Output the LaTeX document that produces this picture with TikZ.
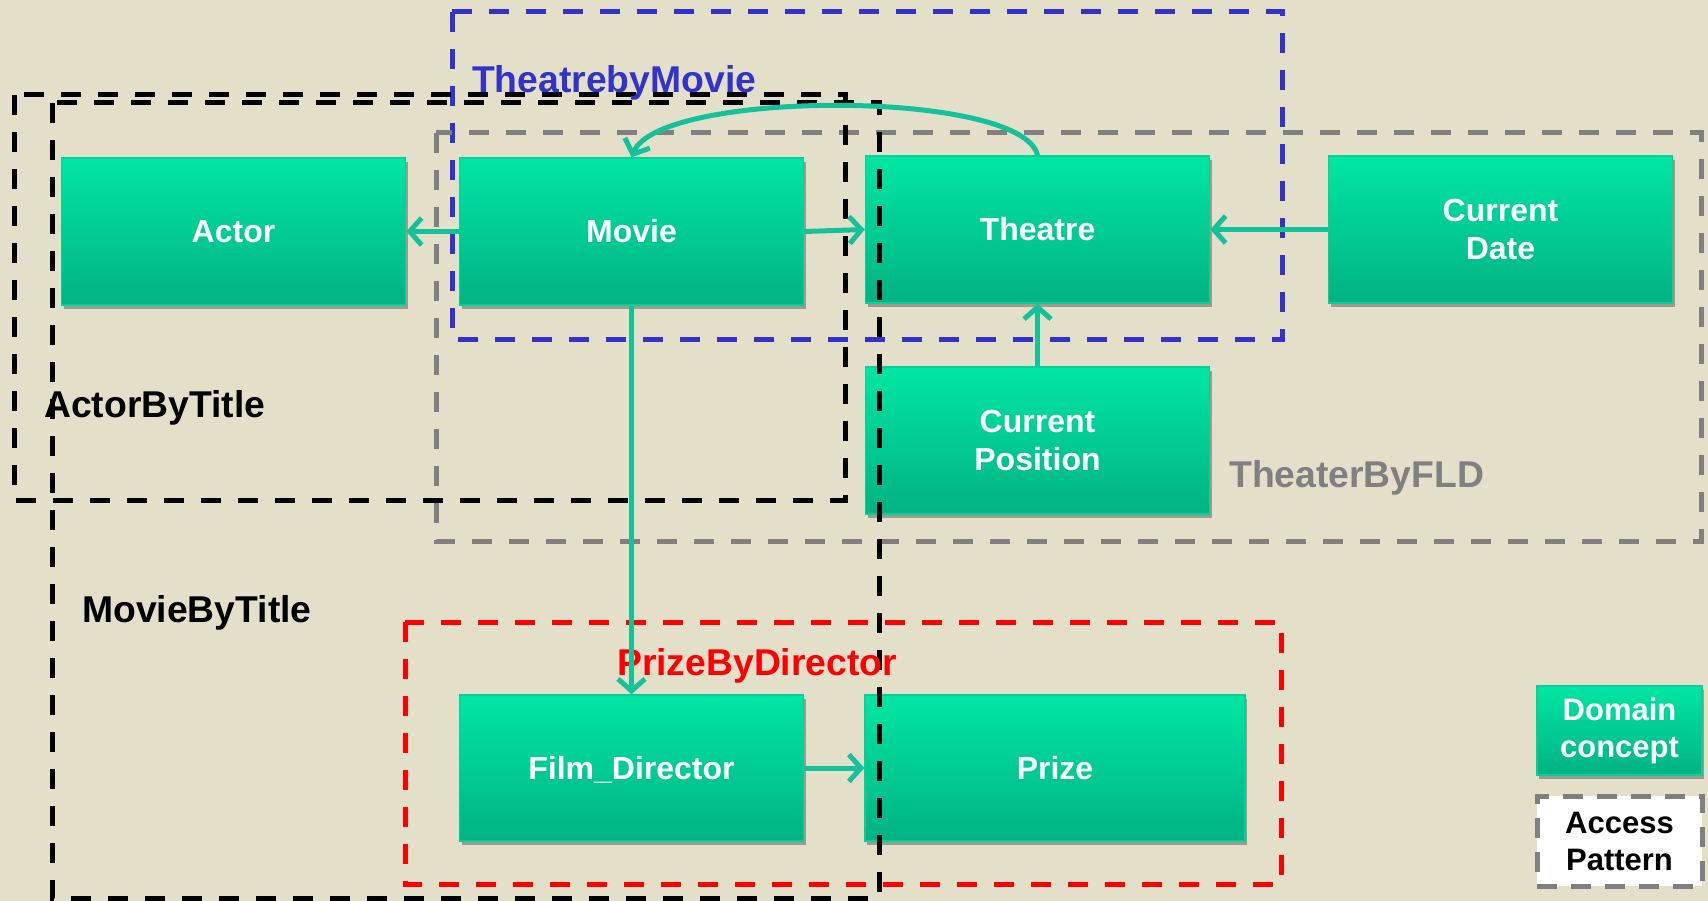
\documentclass[tikz,border=0pt]{standalone}
\usepackage{fontspec}
\setmainfont{Liberation Sans}
\usetikzlibrary{arrows.meta,shadows}
\definecolor{bg}{HTML}{E4DFC9}
\definecolor{boxtop}{HTML}{00E6A3}
\definecolor{boxbot}{HTML}{00B283}
\definecolor{boxedge}{HTML}{00D29A}
\definecolor{conn}{HTML}{14C29A}
\definecolor{apblue}{HTML}{3333CC}
\definecolor{apgray}{HTML}{808080}
\definecolor{apred}{HTML}{FF0000}
\begin{document}
\begin{tikzpicture}[x=1pt,y=-1pt,
  concept/.style={rectangle, draw=boxedge, line width=1.5pt, top color=boxtop, bottom color=boxbot,
    minimum width=344pt, minimum height=147pt, inner sep=0pt, text=white,
    font=\fontsize{32}{38}\selectfont\bfseries, align=center,
    drop shadow={shadow xshift=2pt, shadow yshift=-4pt, opacity=0.3, fill=black}},
  aprect/.style={line width=5pt, dash pattern=on 20pt off 17pt},
  aplabel/.style={anchor=base west, inner sep=0pt, font=\fontsize{37.3}{42}\selectfont\bfseries},
  link/.style={draw=conn, line width=5pt, -{Straight Barb[length=12pt,width=27pt]}}
]
\fill[bg] (0,0) rectangle (1708,901);
\useasboundingbox (0,0) rectangle (1708,901);

% domain concepts
\node[concept] (actor) at (233.5,231.5) {Actor};
\node[concept] (movie) at (631.5,231.5) {Movie};
\node[concept] (theatre) at (1037.5,229.5) {Theatre};
\node[concept] (cdate) at (1500.5,229.5) {Current\\Date};
\node[concept] (cpos) at (1037.5,440.5) {Current\\Position};
\node[concept, minimum height=146pt, text depth=0pt] (fdir) at (631.5,768) {Film\_Director};
\node[concept, minimum width=380pt, minimum height=146pt] (prize) at (1055,768) {Prize};

% access patterns
\draw[aprect, apblue] (452,12) rectangle (1282,339);
\draw[aprect, apgray] (436,133) rectangle (1701,541);
\draw[aprect, black] (14,95) rectangle (845,500);
\draw[aprect, black] (52,103) rectangle (879,898);
\draw[aprect, apred] (405,622) rectangle (1281,884);

\node[aplabel, text=apblue] (lbltbm) at (472,93) {TheatrebyMovie};
\node[aplabel, text=black] (lblabt) at (44,417) {ActorByTitle};
\node[aplabel, text=black] (lblmbt) at (82,622) {MovieByTitle};
\node[aplabel, text=apgray] (lblfld) at (1229,487) {TheaterByFLD};
\node[aplabel, text=apred] (lblpbd) at (617,675) {PrizeByDirector};

% connectors
\draw[link] (movie.west) -- (actor.east);
\draw[link] (movie.east) -- (theatre.west);
\draw[link] (cdate.west) -- (theatre.east);
\draw[link] (cpos.north) -- (theatre.south);
\draw[link] (movie.south) -- (fdir.north);
\draw[link] (fdir.east) -- (prize.west);
\draw[link] (theatre.north) .. controls +(-15,-66) and +(28,-68) .. (movie.north);

% legend
\node[concept, minimum width=165pt, minimum height=89pt, font=\fontsize{31}{37}\selectfont\bfseries] (legdom) at (1619.5,730.5) {Domain\\concept};
\node[rectangle, draw=apgray, fill=white, line width=5pt, dash pattern=on 20pt off 14pt,
  minimum width=165pt, minimum height=90pt, inner sep=0pt, align=center,
  font=\fontsize{31}{37}\selectfont\bfseries] (legap) at (1619.5,841) {Access\\Pattern};
\end{tikzpicture}
\end{document}
